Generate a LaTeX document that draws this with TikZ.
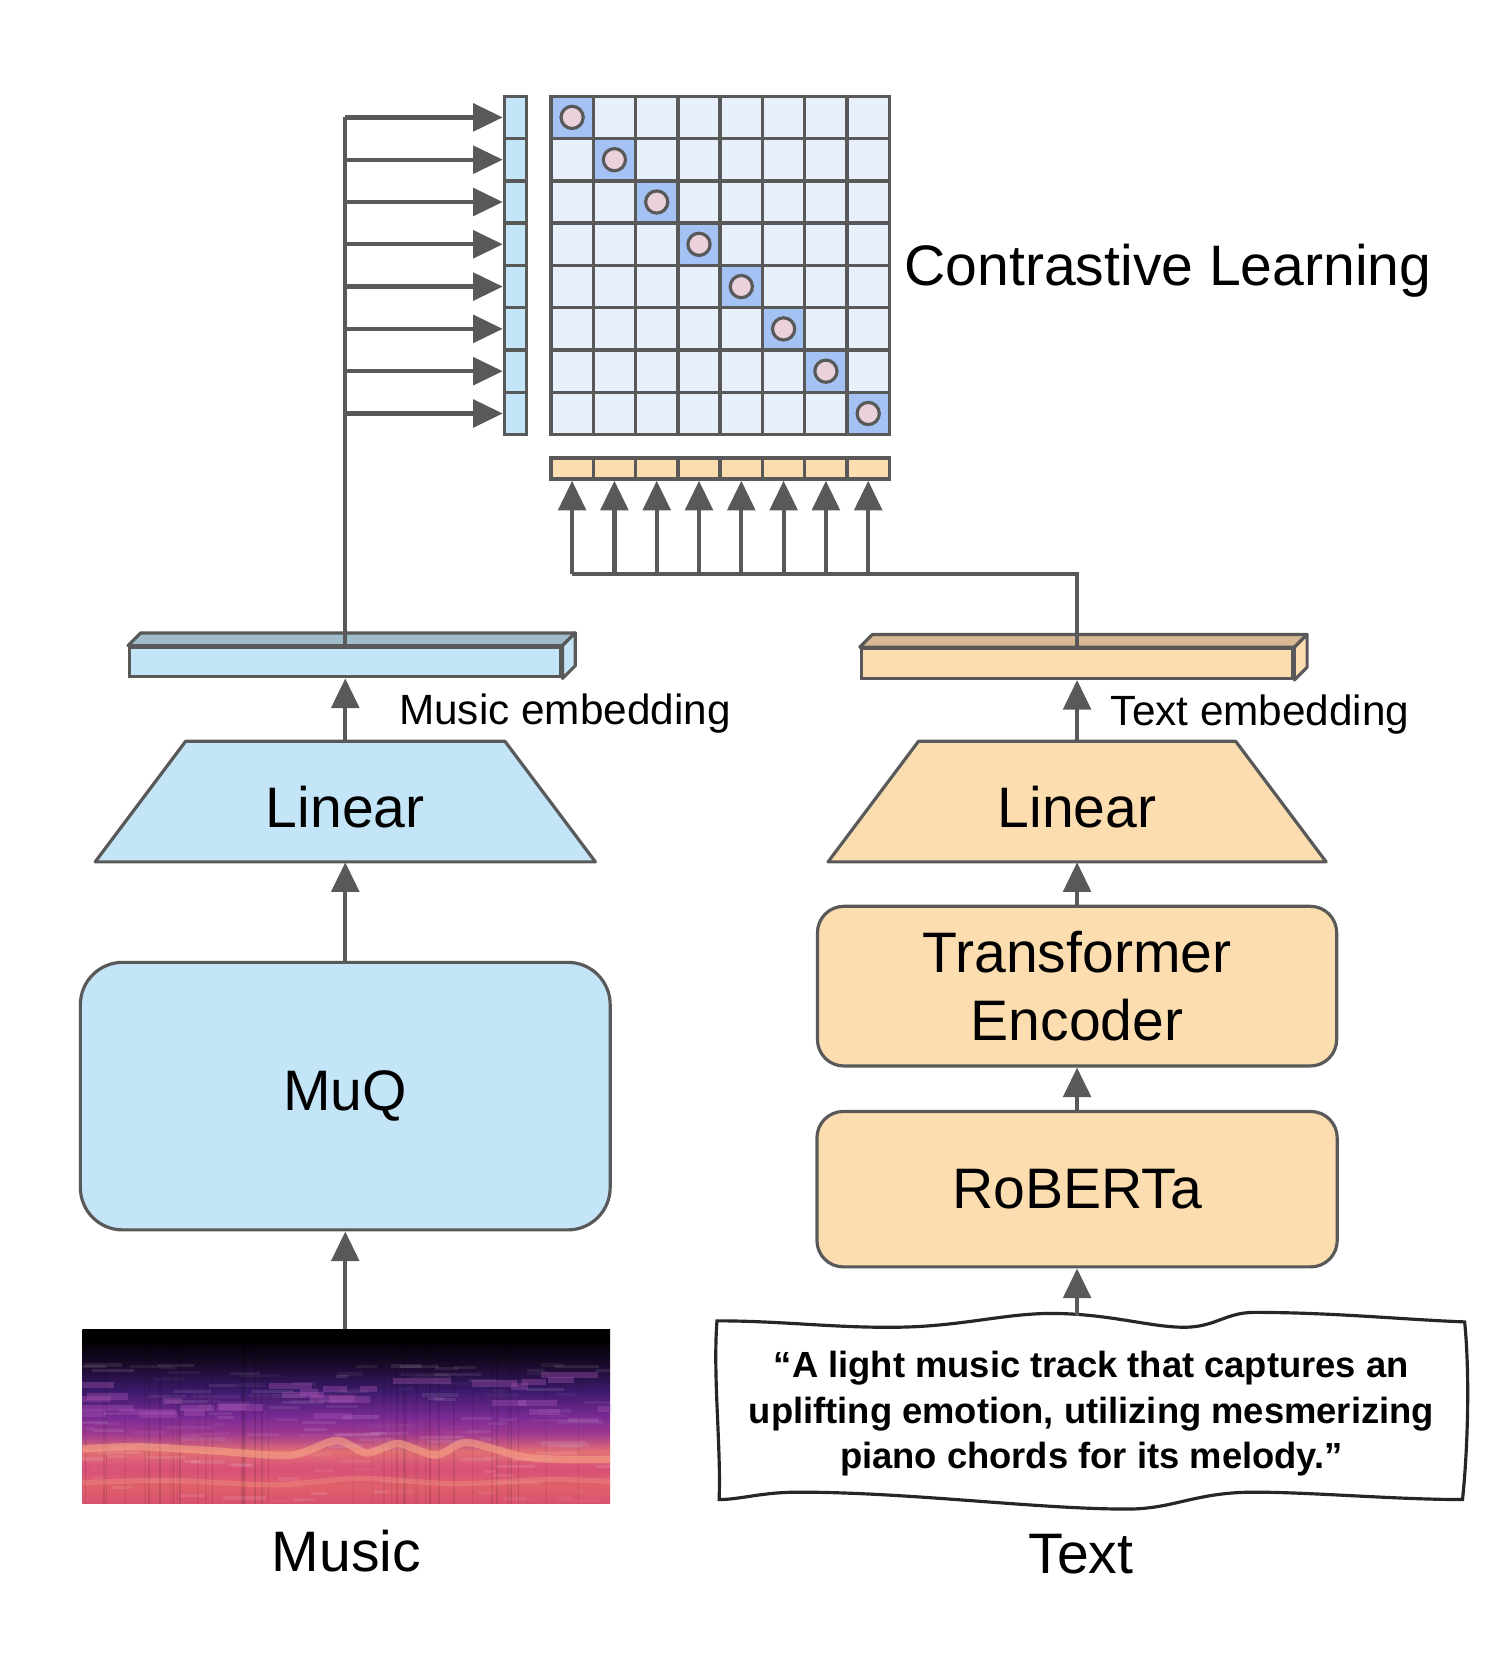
\documentclass[tikz,border=0pt]{standalone}
\usepackage{fontspec}
\setmainfont{Liberation Sans}
\usetikzlibrary{arrows.meta}
\usetikzlibrary{positioning}
\usetikzlibrary{shapes.geometric}
\usetikzlibrary{calc}

\definecolor{edgegray}{HTML}{595959}
\definecolor{inkgray}{HTML}{262626}
\definecolor{musicblue}{HTML}{C4E5F7}
\definecolor{musictop}{HTML}{A0BDCB}
\definecolor{textorange}{HTML}{FCDDB0}
\definecolor{texttop}{HTML}{D8B994}
\definecolor{cellblue}{HTML}{E8F0FC}
\definecolor{diagblue}{HTML}{A4C2F4}
\definecolor{dotpink}{HTML}{EAD1DC}
\definecolor{specA}{HTML}{D85070}
\definecolor{specB}{HTML}{E0606A}
\definecolor{specC}{HTML}{D8507A}
\definecolor{specD}{HTML}{E27072}
\definecolor{specE}{HTML}{A03A90}
\definecolor{specF}{HTML}{7A2A94}
\definecolor{specG}{HTML}{3A1A6A}
\definecolor{specH}{HTML}{1A0A2A}
\definecolor{specI}{HTML}{000000}
\definecolor{specband}{HTML}{F7A486}
\definecolor{specglow}{HTML}{B05AB8}

\pgfdeclareverticalshading{spectro}{100bp}{color(0bp)=(specA); color(25bp)=(specA);
  color(30bp)=(specB); color(35bp)=(specC); color(40bp)=(specD); color(45bp)=(specE);
  color(50bp)=(specF); color(57.5bp)=(specG); color(65bp)=(specH); color(72bp)=(specI);
  color(100bp)=(specI)}

\newcommand{\blockfont}{\fontsize{27}{32.5}\selectfont}
\newcommand{\embfont}{\fontsize{20}{24}\selectfont}
\newcommand{\quotefont}{\fontsize{17.2}{21.6}\selectfont\bfseries}

\tikzset{
  arr/.style={draw=edgegray, line width=2pt, -{Triangle[length=14pt,width=13pt]}},
  wire/.style={draw=edgegray, line width=2pt},
  block/.style={draw=edgegray, line width=1.5pt, align=center, font=\blockfont, inner sep=0},
  trap/.style={draw=edgegray, line width=1.5pt, line join=round},
  linear/.style={inner sep=0, font=\blockfont, text height=25pt, minimum width=151pt, minimum height=57pt},
  bar/.style={rectangle, draw=edgegray, line width=1.5pt, minimum width=204pt,
    minimum height=14pt, inner sep=0},
  face/.style={draw=edgegray, line width=1.5pt, line join=round},
  cell/.style={rectangle, draw=edgegray, line width=1.6pt, inner sep=0},
  dot/.style={circle, draw=edgegray, line width=1.5pt, fill=dotpink, minimum size=10.5pt, inner sep=0},
  label/.style={inner sep=0, font=\embfont},
}

\begin{document}
\begin{tikzpicture}[x=0.5pt, y=-0.5pt]
  \useasboundingbox (0,0) rectangle (1411,1565);

  % music side
  \node[block, rounded corners=20pt, fill=musicblue, minimum width=250.5pt, minimum height=126.5pt] (muq) at (326.5,1036.5) {MuQ};
  \coordinate (linMc) at (326.5,758);
  \draw[trap, fill=musicblue] ($(linMc)+(-151,-57)$) -- ($(linMc)+(151,-57)$) -- ($(linMc)+(236.5,57)$) -- ($(linMc)+(-236.5,57)$) -- cycle;
  \node[linear] (linM) at (linMc) {Linear};
  \node[bar, fill=musicblue] (mbar) at (326.5,626) {};
  \draw[face, fill=musictop] (mbar.north west) -- ++(12,-12) -- ([shift={(12,-12)}]mbar.north east) -- (mbar.north east) -- cycle;
  \draw[face, fill=musicblue] (mbar.north east) -- ++(12,-12) -- ([shift={(12,-12)}]mbar.south east) -- (mbar.south east) -- cycle;
  \node[label, anchor=base west] (memb) at (377,685) {Music embedding};

  % spectrogram
  \node[shading=spectro, minimum width=249.5pt, minimum height=82.5pt, inner sep=0] (spec) at (327.5,1339.5) {};
  \begin{scope}
    \clip (spec.south west) rectangle (spec.north east);
    \pgfmathsetseed{11}
    \foreach \k in {1,...,45}{
      \pgfmathsetmacro{\sx}{78+499*rnd}
      \pgfmathsetmacro{\so}{0.04+0.1*rnd}
      \draw[black, opacity=\so, line width=0.8pt] (\sx,1257) -- (\sx,1422);
    }
    \foreach \k in {1,...,160}{
      \pgfmathsetmacro{\sx}{70+499*rnd}
      \pgfmathsetmacro{\sy}{1290+130*rnd}
      \pgfmathsetmacro{\sl}{10+35*rnd}
      \pgfmathsetmacro{\so}{0.03+0.08*rnd}
      \draw[white, opacity=\so, line width=1.5pt] (\sx,\sy) -- ++(\sl,0);
    }
    \foreach \k in {1,...,30}{
      \pgfmathsetmacro{\sx}{70+499*rnd}
      \pgfmathsetmacro{\sy}{1300+40*rnd}
      \pgfmathsetmacro{\sl}{15+40*rnd}
      \draw[specglow, opacity=0.35, line width=3pt] (\sx,\sy) -- ++(\sl,0);
    }
    \draw[specband, opacity=0.6, line width=3.5pt] plot[smooth] coordinates {(78,1370) (130,1368) (203,1372) (275,1376) (318,1362) (347,1374) (376,1365) (412,1376) (441,1364) (492,1377) (528,1380) (577,1380)};
    \draw[specband, opacity=0.3, line width=2.5pt] plot[smooth] coordinates {(78,1402) (160,1400) (260,1404) (340,1398) (430,1403) (520,1399) (577,1401)};
  \end{scope}
  \node[inner sep=0, font=\blockfont] (musiclabel) [below=12pt of spec] {Music};

  % text side
  \node[block, rounded corners=12.5pt, fill=textorange, minimum width=246pt, minimum height=73.5pt] (rob) at (1018.5,1124.5) {RoBERTa};
  \node[block, rounded corners=12.5pt, fill=textorange, minimum width=245.5pt, minimum height=75.5pt] (tenc) at (1018.5,932.5) {Transformer\\Encoder};
  \coordinate (linTc) at (1018.5,758);
  \draw[trap, fill=textorange] ($(linTc)+(-150,-57)$) -- ($(linTc)+(150,-57)$) -- ($(linTc)+(235.5,57)$) -- ($(linTc)+(-235.5,57)$) -- cycle;
  \node[linear] (linT) at (linTc) {Linear};
  \node[bar, fill=textorange] (tbar) at (1018.5,627.5) {};
  \draw[face, fill=texttop] (tbar.north west) -- ++(12,-12) -- ([shift={(12,-12)}]tbar.north east) -- (tbar.north east) -- cycle;
  \draw[face, fill=textorange] (tbar.north east) -- ++(12,-12) -- ([shift={(12,-12)}]tbar.south east) -- (tbar.south east) -- cycle;
  \node[label, anchor=base west] (temb) at (1050,686) {Text embedding};

  % caption paper
  \draw[draw=inkgray, line width=1.5pt, fill=white]
    (678,1249) .. controls (740,1249) and (790,1256) .. (851,1255)
    .. controls (910,1254) and (950,1242) .. (994,1242)
    .. controls (1050,1242) and (1090,1256) .. (1123,1255)
    .. controls (1150,1254) and (1160,1241) .. (1186,1241)
    .. controls (1260,1241) and (1330,1248) .. (1385,1250)
    .. controls (1390,1300) and (1388,1370) .. (1383,1418)
    .. controls (1320,1418) and (1240,1411) .. (1186,1411)
    .. controls (1130,1411) and (1110,1427) .. (1066,1427)
    .. controls (980,1427) and (860,1411) .. (755,1411)
    .. controls (720,1411) and (700,1418) .. (680,1418)
    .. controls (682,1370) and (674,1300) .. cycle;
  \node[align=center, inner sep=0, font=\quotefont] (quote) at (1032,1337) {“A light music track that captures an\\uplifting emotion, utilizing mesmerizing\\piano chords for its melody.”};
  \coordinate (qtop) at (1018.5,1244);
  \node[inner sep=0, font=\blockfont, anchor=base] (textlabel) at (1022,1488) {Text};

  % similarity matrix
  \foreach \i in {1,...,8}{
    \node[cell, fill=musicblue, minimum width=10.5pt, minimum height=20pt] (m\i) at (487.5,71+40*\i) {};
    \node[cell, fill=textorange, minimum width=20pt, minimum height=10pt] (t\i) at (501+40*\i,443) {};
  }
  \foreach \r in {1,...,8}{
    \foreach \c in {1,...,8}{
      \ifnum\r=\c \def\cellfill{diagblue}\else\def\cellfill{cellblue}\fi
      \node[cell, fill=\cellfill, minimum size=20pt] (g\r\c) at (501+40*\c,71+40*\r) {};
    }
  }
  \foreach \i in {1,...,8}
    \node[dot] (d\i) at (g\i\i) {};
  \node[inner sep=0, font=\blockfont, anchor=base west] (cl) at (855,270) {Contrastive Learning};

  % connectors
  \coordinate (mtop) at (326.5,111);
  \coordinate (hub) at (1018.5,543);
  \draw[wire] (mbar.north) -- (mtop);
  \draw[wire] (tbar.north) -- (hub) -- (t1.south |- hub);
  \foreach \i in {1,...,8}{
    \draw[arr] (mbar.north |- m\i.west) -- (m\i.west);
    \draw[arr] (t\i.south |- hub) -- (t\i.south);
  }
  \draw[arr] (spec.north -| muq.north) -- (muq.south);
  \draw[arr] (muq.north) -- (linM.south);
  \draw[arr] (linM.north) -- (mbar.south);
  \draw[arr] (qtop) -- (rob.south);
  \draw[arr] (rob.north) -- (tenc.south);
  \draw[arr] (tenc.north) -- (linT.south);
  \draw[arr] (linT.north) -- (tbar.south);
\end{tikzpicture}
\end{document}
